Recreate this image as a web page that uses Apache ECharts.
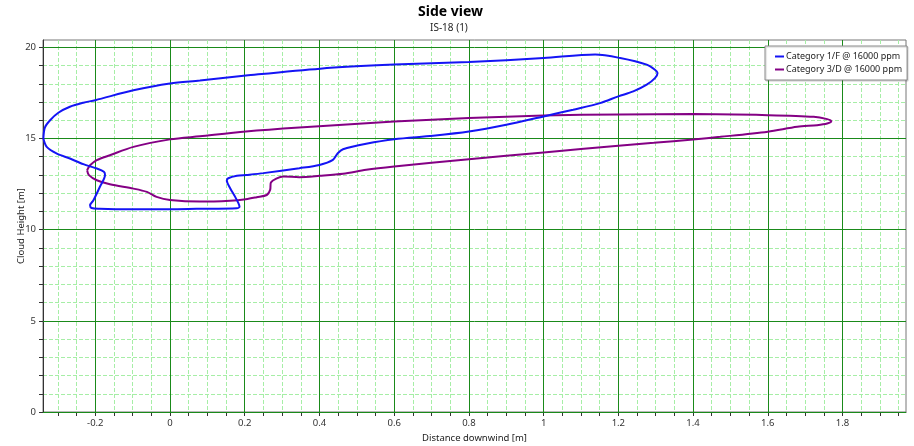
<!DOCTYPE html>
<html>
<head>
<meta charset="utf-8">
<script src="https://cdn.jsdelivr.net/npm/echarts@6/dist/echarts.min.js"></script>
<style>
html,body{margin:0;padding:0;background:#fff;}
#chart{width:914px;height:446px;}
</style>
</head>
<body>
<div id="chart"></div>
<script>
const titleText = 'Side view';
const subtitleText = 'IS-18 (1)';
const xAxisName = 'Distance downwind [m]';
const yAxisName = 'Cloud Height [m]';
const seriesNames = ['Category 1/F @ 16000 ppm', 'Category 3/D @ 16000 ppm'];

const xMajorValues = [-0.2, 0, 0.2, 0.4, 0.6, 0.8, 1, 1.2, 1.4, 1.6, 1.8];
const xMinorValues = [-0.3, -0.25, -0.2, -0.15, -0.1, -0.05, 0, 0.05, 0.1, 0.15, 0.2, 0.25, 0.3, 0.35, 0.4, 0.45, 0.5, 0.55, 0.6, 0.65, 0.7, 0.75, 0.8, 0.85, 0.9, 0.95, 1, 1.05, 1.1, 1.15, 1.2, 1.25, 1.3, 1.35, 1.4, 1.45, 1.5, 1.55, 1.6, 1.65, 1.7, 1.75, 1.8, 1.85, 1.9, 1.95];
const yMajorValues = [0, 5, 10, 15, 20];
const yMinorValues = [0, 1, 2, 3, 4, 5, 6, 7, 8, 9, 10, 11, 12, 13, 14, 15, 16, 17, 18, 19, 20];

// Category 1/F outline (x, height)
const cat1F = [
  [-0.339, 15.0], [-0.335, 15.6], [-0.321, 16.0], [-0.299, 16.41], [-0.268, 16.74],
  [-0.232, 16.96], [-0.2, 17.1], [-0.098, 17.64], [0.0, 18.02], [0.08, 18.18],
  [0.203, 18.45], [0.402, 18.83], [0.6, 19.05], [0.8, 19.19], [1.0, 19.41],
  [1.138, 19.6], [1.205, 19.41], [1.276, 19.05], [1.298, 18.77], [1.305, 18.59],
  [1.298, 18.31], [1.276, 17.95], [1.24, 17.58], [1.2, 17.31], [1.151, 16.94],
  [1.079, 16.58], [1.0, 16.21], [0.9, 15.75], [0.8, 15.38], [0.704, 15.15],
  [0.6, 14.96], [0.525, 14.71], [0.463, 14.41], [0.449, 14.19], [0.436, 13.83],
  [0.4, 13.55], [0.346, 13.37], [0.25, 13.1], [0.205, 13.0], [0.179, 12.95],
  [0.156, 12.82], [0.152, 12.69], [0.161, 12.27], [0.174, 11.81], [0.183, 11.45],
  [0.186, 11.26], [0.179, 11.17], [0.071, 11.14], [0.0, 11.12], [-0.107, 11.12],
  [-0.188, 11.15], [-0.210, 11.19], [-0.214, 11.34], [-0.205, 11.61], [-0.188, 12.34],
  [-0.174, 12.99], [-0.177, 13.17], [-0.196, 13.35], [-0.232, 13.59], [-0.268, 13.9],
  [-0.304, 14.18], [-0.330, 14.54], [-0.339, 15.0]
];

// Category 3/D outline (x, height)
const cat3D = [
  [-0.222, 13.26], [-0.214, 13.53], [-0.196, 13.81], [-0.161, 14.08], [-0.098, 14.54],
  [0.0, 14.95], [0.08, 15.12], [0.203, 15.38], [0.346, 15.6], [0.6, 15.93],
  [0.8, 16.12], [1.0, 16.26], [1.205, 16.32], [1.4, 16.34], [1.6, 16.28],
  [1.723, 16.19], [1.759, 16.06], [1.77, 15.95], [1.759, 15.82], [1.732, 15.73],
  [1.679, 15.64], [1.6, 15.37], [1.473, 15.09], [1.4, 14.95], [1.295, 14.76],
  [1.2, 14.6], [1.0, 14.23], [0.8, 13.86], [0.6, 13.46], [0.525, 13.28],
  [0.463, 13.06], [0.4, 12.95], [0.346, 12.88], [0.304, 12.91], [0.270, 12.58],
  [0.268, 12.18], [0.259, 11.9], [0.232, 11.78], [0.203, 11.67], [0.161, 11.59],
  [0.08, 11.54], [0.0, 11.63], [-0.036, 11.8], [-0.062, 12.07], [-0.098, 12.25],
  [-0.161, 12.49], [-0.196, 12.71], [-0.217, 12.99], [-0.222, 13.26]
];

const FONT = '"Noto Sans", "Open Sans", sans-serif';
const X_MIN = -0.34, X_MAX = 1.97, Y_MIN = 0, Y_MAX = 20.4;
const MAJOR = '#1a8a1a';
const MINOR = '#a6eea6';

const chart = echarts.init(document.getElementById('chart'), null, {renderer: 'canvas'});

function fmt(v) { return String(Math.round(v * 100) / 100); }

const option = {
  animation: false,
  backgroundColor: '#ffffff',
  textStyle: {fontFamily: FONT},
  graphic: [
    {type: 'text', left: 449 - 31, top: 5, style: {text: titleText, font: 'bold 14px ' + FONT, fill: '#000'}},
    {type: 'text', left: 449 - 19, top: 23, style: {text: subtitleText, font: '10px ' + FONT, fill: '#222'}}
  ],
  grid: {left: 43, right: 8, top: 40, bottom: 34, show: true, borderColor: '#777', borderWidth: 1,
         backgroundColor: 'transparent', containLabel: false, outerBoundsMode: 'none'},
  legend: {
    orient: 'vertical', left: 765, top: 46,
    padding: [6, 5, 6, 10], itemGap: 4, itemWidth: 9, itemHeight: 2,
    backgroundColor: '#fff', borderColor: '#8a8a8a', borderWidth: 1,
    shadowColor: 'rgba(0,0,0,0.2)', shadowBlur: 1, shadowOffsetX: 1, shadowOffsetY: 1,
    textStyle: {fontSize: 9, color: '#222', fontFamily: FONT, padding: [0, 0, 0, -3]},
    data: [
      {name: seriesNames[0], icon: 'rect'},
      {name: seriesNames[1], icon: 'rect'}
    ]
  },
  xAxis: [
    {
      type: 'value', min: X_MIN, max: X_MAX, position: 'bottom', z: 0,
      name: xAxisName, nameLocation: 'middle', nameGap: 21, nameMoveOverlap: false,
      nameTextStyle: {fontSize: 9.5, color: '#222', fontFamily: FONT},
      axisLine: {show: true, onZero: false, lineStyle: {color: '#333', width: 1}},
      axisTick: {show: true, length: 4, customValues: xMinorValues, lineStyle: {color: '#333'}},
      axisLabel: {show: true, customValues: xMajorValues, formatter: fmt, fontSize: 9.5, color: '#333', margin: 6, fontFamily: FONT},
      splitLine: {show: true, lineStyle: {color: MINOR, type: [4, 2], width: 1}}
    },
    {
      type: 'value', min: X_MIN, max: X_MAX, position: 'bottom', z: 1,
      axisLine: {show: false},
      axisTick: {show: false, customValues: xMajorValues},
      axisLabel: {show: false},
      splitLine: {show: true, lineStyle: {color: MAJOR, width: 1}}
    }
  ],
  yAxis: [
    {
      type: 'value', min: Y_MIN, max: Y_MAX, position: 'left', z: 0,
      name: yAxisName, nameLocation: 'middle', nameGap: 17, nameRotate: 90, nameMoveOverlap: false,
      nameTextStyle: {fontSize: 9.5, color: '#222', fontFamily: FONT},
      axisLine: {show: true, onZero: false, lineStyle: {color: '#333', width: 1}},
      axisTick: {show: true, length: 4, customValues: yMinorValues, lineStyle: {color: '#333'}},
      axisLabel: {show: true, customValues: yMajorValues, fontSize: 9.5, color: '#333', margin: 7, fontFamily: FONT},
      splitLine: {show: true, lineStyle: {color: MINOR, type: [4, 2], width: 1}}
    },
    {
      type: 'value', min: Y_MIN, max: Y_MAX, position: 'left', z: 1,
      axisLine: {show: false},
      axisTick: {show: false, customValues: yMajorValues},
      axisLabel: {show: false},
      splitLine: {show: true, lineStyle: {color: MAJOR, width: 1}}
    }
  ],
  series: [
    {
      name: seriesNames[0], type: 'line', xAxisIndex: 0, yAxisIndex: 0,
      data: cat1F, showSymbol: false, symbol: 'none', smooth: 0.3, z: 3,
      lineStyle: {color: '#1414f5', width: 2}, itemStyle: {color: '#1414f5'}
    },
    {
      name: seriesNames[1], type: 'line', xAxisIndex: 0, yAxisIndex: 0,
      data: cat3D, showSymbol: false, symbol: 'none', smooth: 0.3, z: 2,
      lineStyle: {color: '#840084', width: 2}, itemStyle: {color: '#840084'}
    }
  ]
};
chart.setOption(option);
</script>
</body>
</html>
